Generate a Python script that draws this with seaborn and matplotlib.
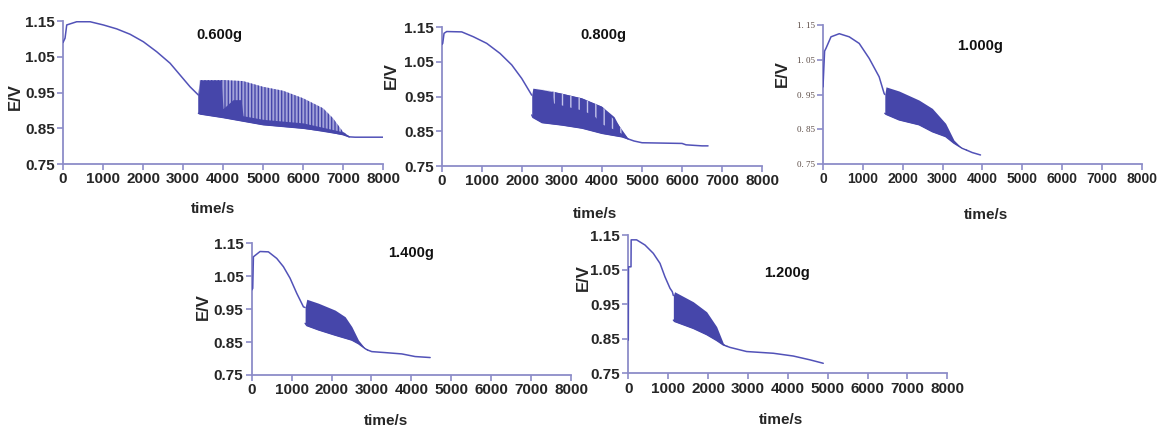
import matplotlib
matplotlib.use("Agg")
import matplotlib.pyplot as plt
import seaborn as sns
import numpy as np
from matplotlib import font_manager

sns.set_theme(style="white")
plt.rcParams['font.family'] = ['Liberation Sans', 'DejaVu Sans']
plt.rcParams['hatch.linewidth'] = 1.0

# ---------------- data ----------------
# 0.600 g
t_pre_600 = [0, 50, 92, 342, 675, 1008, 1342, 1675, 2008, 2342, 2675, 2925, 3175, 3383]
e_pre_600 = [1.090, 1.102, 1.139, 1.148, 1.148, 1.139, 1.128, 1.113, 1.092, 1.064, 1.032, 0.999, 0.966, 0.943]
t_band_600 = [3383, 3420, 4000, 4500, 5000, 5500, 6000, 6500, 6750, 7000, 7150]
hi_band_600 = [0.943, 0.985, 0.985, 0.982, 0.966, 0.955, 0.934, 0.906, 0.878, 0.840, 0.828]
lo_band_600 = [0.892, 0.890, 0.880, 0.870, 0.860, 0.855, 0.850, 0.843, 0.838, 0.832, 0.826]
t_core_600 = [3383, 3420, 3950, 4000, 4250, 4450, 4500, 5000, 6000, 7000, 7150]
top_core_600 = [0.943, 0.985, 0.985, 0.905, 0.930, 0.930, 0.885, 0.875, 0.865, 0.840, 0.828]
t_post_600 = [7150, 7300, 8000]
e_post_600 = [0.826, 0.825, 0.825]

# 0.800 g
t_pre_800 = [0, 17, 50, 117, 492, 783, 1117, 1450, 1742, 1992, 2242]
e_pre_800 = [1.100, 1.103, 1.132, 1.137, 1.136, 1.122, 1.103, 1.074, 1.041, 1.002, 0.954]
t_band_800 = [2242, 2270, 2500, 3000, 3500, 4000, 4300, 4500, 4650]
hi_band_800 = [0.954, 0.974, 0.970, 0.959, 0.945, 0.921, 0.892, 0.849, 0.830]
lo_band_800 = [0.897, 0.890, 0.875, 0.868, 0.859, 0.844, 0.838, 0.834, 0.828]
t_core_800 = [2242, 2270, 2750, 2800, 3500, 3800, 4000, 4400, 4650]
top_core_800 = [0.954, 0.974, 0.965, 0.930, 0.910, 0.895, 0.870, 0.850, 0.830]
t_post_800 = [4650, 4800, 5000, 6000, 6100, 6500, 6650]
e_post_800 = [0.828, 0.822, 0.817, 0.815, 0.811, 0.808, 0.808]

# 1.000 g
t_pre_1000 = [0, 40, 75, 200, 408, 658, 908, 1158, 1408, 1533, 1550]
e_pre_1000 = [0.972, 1.075, 1.083, 1.116, 1.125, 1.116, 1.097, 1.054, 1.001, 0.953, 0.950]
t_band_1000 = [1550, 1580, 1908, 2408, 2742, 3075, 3283, 3492, 3600]
hi_band_1000 = [0.950, 0.972, 0.960, 0.934, 0.910, 0.867, 0.819, 0.795, 0.790]
lo_band_1000 = [0.896, 0.893, 0.877, 0.863, 0.843, 0.829, 0.810, 0.795, 0.790]
t_post_1000 = [3600, 3742, 3950]
e_post_1000 = [0.790, 0.783, 0.776]

# 1.400 g
t_pre_1400 = [0, 25, 42, 208, 417, 627, 793, 960, 1128, 1295, 1337]
e_pre_1400 = [1.008, 1.013, 1.109, 1.125, 1.124, 1.104, 1.079, 1.044, 0.998, 0.957, 0.955]
t_band_1400 = [1337, 1379, 1671, 2089, 2340, 2507, 2674, 2841, 2900]
hi_band_1400 = [0.955, 0.980, 0.968, 0.947, 0.927, 0.897, 0.856, 0.831, 0.826]
lo_band_1400 = [0.907, 0.900, 0.887, 0.871, 0.862, 0.856, 0.845, 0.830, 0.826]
t_post_1400 = [2900, 3008, 3342, 3760, 4094, 4470]
e_post_1400 = [0.826, 0.821, 0.818, 0.814, 0.806, 0.803]

# 1.200 g
t_pre_1200 = [0, 5, 68, 72, 208, 419, 627, 795, 920, 1046, 1104, 1130]
e_pre_1200 = [0.846, 1.058, 1.058, 1.136, 1.136, 1.121, 1.097, 1.068, 1.029, 0.996, 0.986, 0.975]
t_band_1200 = [1130, 1160, 1630, 1965, 2216, 2383, 2480]
hi_band_1200 = [0.975, 0.986, 0.957, 0.928, 0.885, 0.837, 0.828]
lo_band_1200 = [0.904, 0.900, 0.880, 0.862, 0.845, 0.832, 0.828]
t_post_1200 = [2480, 2550, 2968, 3637, 4138, 4556, 4890]
e_post_1200 = [0.828, 0.825, 0.813, 0.808, 0.800, 0.789, 0.779]

x_ticks = [0, 1000, 2000, 3000, 4000, 5000, 6000, 7000, 8000]
y_ticks = [0.75, 0.85, 0.95, 1.05, 1.15]
y_tick_labels = ["0.75", "0.85", "0.95", "1.05", "1.15"]
y_tick_labels_small = ["0. 75", "0. 85", "0. 95", "1. 05", "1. 15"]
panel_labels = ["0.600g", "0.800g", "1.000g", "1.400g", "1.200g"]

# ---------------- styling ----------------
LINE = "#5252b8"
FILL = "#4646aa"
LIGHT = "#a4a4da"
STREAK = "#c4c4ea"
SPINE = "#8c8cc8"

names = {f.name for f in font_manager.fontManager.ttflist}
narrow = "Liberation Sans Narrow" if "Liberation Sans Narrow" in names else "Liberation Sans"

fig = plt.figure(figsize=(11.59, 4.29), dpi=100)

rects = [
    [0.0544, 0.6177, 0.2761, 0.3333],
    [0.3814, 0.6130, 0.2761, 0.3240],
    [0.7101, 0.6177, 0.2752, 0.3240],
    [0.2172, 0.1259, 0.2755, 0.3070],
    [0.5421, 0.1298, 0.2752, 0.3224],
]
xtick_size = [11, 11, 10, 11, 11]
ylab_pos = [(-0.125, 0.47), (-0.134, 0.65), (-0.103, 0.65), (-0.127, 0.52), (-0.117, 0.69)]
xlab_pos = [(0.47, -0.265), (0.478, -0.295), (0.51, -0.32), (0.42, -0.30), (0.48, -0.29)]
text_pos = [(3900, 1.112), (4025, 1.128), (3950, 1.090), (4000, 1.120), (3975, 1.040)]

pre = [(t_pre_600, e_pre_600), (t_pre_800, e_pre_800), (t_pre_1000, e_pre_1000),
       (t_pre_1400, e_pre_1400), (t_pre_1200, e_pre_1200)]
post = [(t_post_600, e_post_600), (t_post_800, e_post_800), (t_post_1000, e_post_1000),
        (t_post_1400, e_post_1400), (t_post_1200, e_post_1200)]
bands = [(t_band_600, lo_band_600, hi_band_600), (t_band_800, lo_band_800, hi_band_800),
         (t_band_1000, lo_band_1000, hi_band_1000), (t_band_1400, lo_band_1400, hi_band_1400),
         (t_band_1200, lo_band_1200, hi_band_1200)]

for i, r in enumerate(rects):
    ax = fig.add_axes(r)
    tb, lo, hi = bands[i]
    if i == 0:
        # sparse oscillation spikes: light background + dark vertical hatch + dense core
        ax.fill_between(tb, lo, hi, facecolor=LIGHT, edgecolor=FILL,
                        hatch="|||||", linewidth=0, zorder=2)
        lo_c = np.interp(t_core_600, tb, lo)
        ax.fill_between(t_core_600, lo_c, top_core_600, color=FILL, linewidth=0, zorder=3)
    elif i == 1:
        # dense band with a few light streaks near the top
        ax.fill_between(tb, lo, hi, color=FILL, linewidth=0, zorder=2)
        ax.fill_between(t_core_800, top_core_800, np.interp(t_core_800, tb, hi),
                        facecolor=FILL, edgecolor=STREAK, hatch="||", linewidth=0, zorder=3)
    else:
        ax.fill_between(tb, lo, hi, color=FILL, linewidth=0, zorder=2)
    sns.lineplot(x=pre[i][0], y=pre[i][1], ax=ax, color=LINE, linewidth=1.1,
                 estimator=None, sort=False, zorder=4)
    sns.lineplot(x=post[i][0], y=post[i][1], ax=ax, color=LINE, linewidth=1.1,
                 estimator=None, sort=False, zorder=4)
    sns.lineplot(x=tb, y=lo, ax=ax, color=FILL, linewidth=1.0,
                 estimator=None, sort=False, zorder=4)

    ax.set_xlim(0, 8000)
    ax.set_ylim(0.75, 1.15)
    ax.set_xticks(x_ticks)
    ax.set_xticklabels([str(v) for v in x_ticks], fontsize=xtick_size[i], fontweight="bold",
                       family=[narrow, "DejaVu Sans"])
    ax.set_yticks(y_ticks)
    if i == 2:
        ax.set_yticklabels(y_tick_labels_small, fontsize=6.5,
                           family=["Liberation Serif", "DejaVu Serif"], color="#5a4a44")
    else:
        ax.set_yticklabels(y_tick_labels, fontsize=11, fontweight="bold",
                           family=[narrow, "DejaVu Sans"])
    for s in ["top", "right"]:
        ax.spines[s].set_visible(False)
    for s in ["left", "bottom"]:
        ax.spines[s].set_color(SPINE)
        ax.spines[s].set_linewidth(1.3)
    ax.tick_params(axis="both", which="major", direction="out", length=4,
                   width=1.2, color=SPINE, pad=2, bottom=True, left=True)
    ax.set_ylabel("E/V", fontsize=12, fontweight="bold")
    ax.yaxis.set_label_coords(*ylab_pos[i])
    ax.set_xlabel("time/s", fontsize=11, fontweight="bold")
    ax.xaxis.set_label_coords(*xlab_pos[i])
    ax.text(text_pos[i][0], text_pos[i][1], panel_labels[i], fontsize=10.5,
            fontweight="bold", ha="center", va="center", color="#111111")
    ax.set_facecolor("white")
    ax.grid(False)

fig.savefig("out.png", dpi=100, facecolor="white")
